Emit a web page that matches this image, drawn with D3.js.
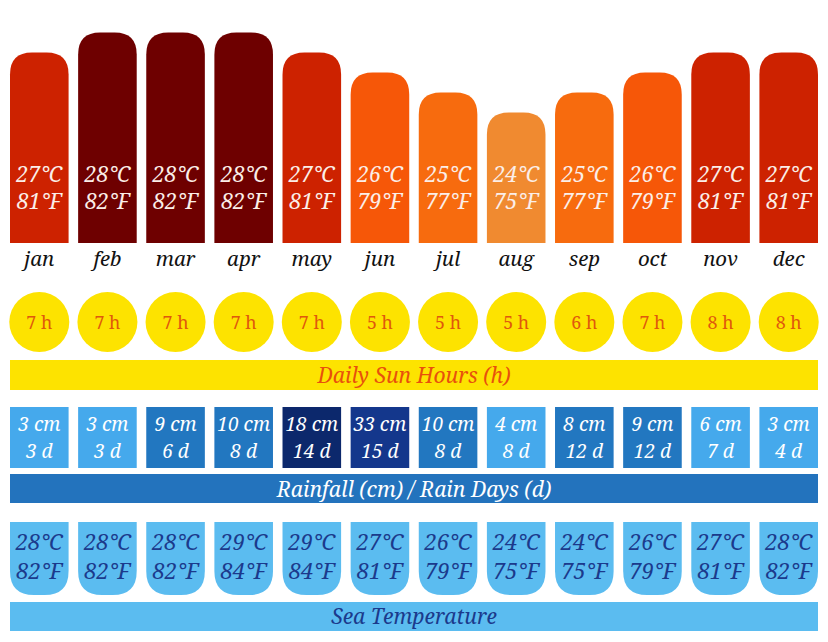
<!DOCTYPE html>
<html>
<head>
<meta charset="utf-8">
<script src="https://cdn.jsdelivr.net/npm/d3@7"></script>
<style>
html,body{margin:0;padding:0;background:#fff;}
svg{display:block;}
</style>
</head>
<body>
<svg id="chart" width="828" height="642"></svg>
<script>
const months = ["jan","feb","mar","apr","may","jun","jul","aug","sep","oct","nov","dec"];
const airC = [27,28,28,28,27,26,25,24,25,26,27,27];
const airF = [81,82,82,82,81,79,77,75,77,79,81,81];
const sunHours = [7,7,7,7,7,5,5,5,6,7,8,8];
const rainCm = [3,3,9,10,18,33,10,4,8,9,6,3];
const rainDays = [3,3,6,8,14,15,8,8,12,12,7,4];
const seaC = [28,28,28,29,29,27,26,24,24,26,27,28];
const seaF = [82,82,82,84,84,81,79,75,75,79,81,82];
const titles = ["Daily Sun Hours (h)","Rainfall (cm) / Rain Days (d)","Sea Temperature"];

const FONT = "'Noto Serif', 'Liberation Serif', serif";
const svg = d3.select("#chart").attr("font-family", FONT);
const W = 828;
const x = d3.scaleBand().domain(months).range([10, 818]).paddingInner(0.14).paddingOuter(0);
const bw = x.bandwidth();
const cx = m => x(m) + bw/2;

// pick a font size so that a sample string has the width it has in the picture
function fit(sample, target, italic){
  const t = svg.append("text").attr("font-family", FONT)
    .attr("font-style", italic ? "italic" : "normal").attr("font-size", 100).text(sample);
  const w = t.node().getComputedTextLength();
  t.remove();
  return Math.round(100 * target / w * 10) / 10;
}
const sBar = fit("27°C", 46, true);
const sMonth = fit("jan", 30, true);
const sSun = fit("7 h", 26, false);
const sRain = fit("3 cm", 42, true);
const sBanner = fit(titles[1], 274, true);
const sSea = fit("28°C", 47, true);

function label(g, xx, yy, txt, size, fill, italic){
  return g.append("text").attr("x", xx).attr("y", yy)
    .attr("text-anchor","middle")
    .attr("font-family", FONT)
    .attr("font-style", italic ? "italic" : "normal")
    .attr("font-size", size).attr("fill", fill).text(txt);
}

// air temperature bars
const yBase = 243;
const y = d3.scaleLinear().domain([24, 28]).range([112.5, 32.5]);
const barColor = d3.scaleOrdinal().domain([24,25,26,27,28])
  .range(["#f08a30","#f76b0e","#f65708","#cd2200","#6e0000"]);

function topRounded(x0, y0, w, y1, r){
  return `M${x0},${y1}V${y0+r}Q${x0},${y0} ${x0+r},${y0}H${x0+w-r}Q${x0+w},${y0} ${x0+w},${y0+r}V${y1}Z`;
}
function bottomRounded(x0, y0, w, y1, r){
  return `M${x0},${y0}H${x0+w}V${y1-r}Q${x0+w},${y1} ${x0+w-r},${y1}H${x0+r}Q${x0},${y1} ${x0},${y1-r}Z`;
}

const g1 = svg.append("g");
months.forEach((m,i)=>{
  g1.append("path")
    .attr("d", topRounded(x(m), y(airC[i]), bw, yBase, 22))
    .attr("fill", barColor(airC[i]));
  label(g1, cx(m), 182, airC[i]+"°C", sBar, "#fbeee8", true);
  label(g1, cx(m), 209, airF[i]+"°F", sBar, "#fbeee8", true);
  label(g1, cx(m), 266, m, sMonth, "#111", true);
});

// sun hours
const g2 = svg.append("g");
months.forEach((m,i)=>{
  g2.append("circle").attr("cx", cx(m)).attr("cy", 322).attr("r", 30).attr("fill","#fde300");
  label(g2, cx(m), 329, sunHours[i]+" h", sSun, "#e0580c", false);
});
g2.append("rect").attr("x",10).attr("y",360).attr("width",808).attr("height",30).attr("fill","#fde300");
label(g2, W/2, 383, titles[0], sBanner, "#e8500c", true);

// rainfall
const rainColor = d3.scaleThreshold().domain([7, 15, 25])
  .range(["#45a9ec","#2277c0","#0c286c","#14378c"]);
const g3 = svg.append("g");
months.forEach((m,i)=>{
  g3.append("rect").attr("x", x(m)).attr("y", 407).attr("width", bw).attr("height", 61)
    .attr("fill", rainColor(rainCm[i]));
  label(g3, cx(m), 431, rainCm[i]+" cm", sRain, "#ffffff", true);
  label(g3, cx(m), 458, rainDays[i]+" d", sRain, "#ffffff", true);
});
g3.append("rect").attr("x",10).attr("y",474).attr("width",808).attr("height",29).attr("fill","#2373bd");
label(g3, W/2, 497, titles[1], sBanner, "#ffffff", true);

// sea temperature
const g4 = svg.append("g");
months.forEach((m,i)=>{
  g4.append("path").attr("d", bottomRounded(x(m), 522, bw, 595, 24)).attr("fill","#5bbcf0");
  label(g4, cx(m), 550, seaC[i]+"°C", sSea, "#1b3a8c", true);
  label(g4, cx(m), 579, seaF[i]+"°F", sSea, "#1b3a8c", true);
});
g4.append("rect").attr("x",10).attr("y",602).attr("width",808).attr("height",29).attr("fill","#5bbcf0");
label(g4, W/2, 624, titles[2], sBanner, "#1b3a8c", true);
</script>
</body>
</html>
